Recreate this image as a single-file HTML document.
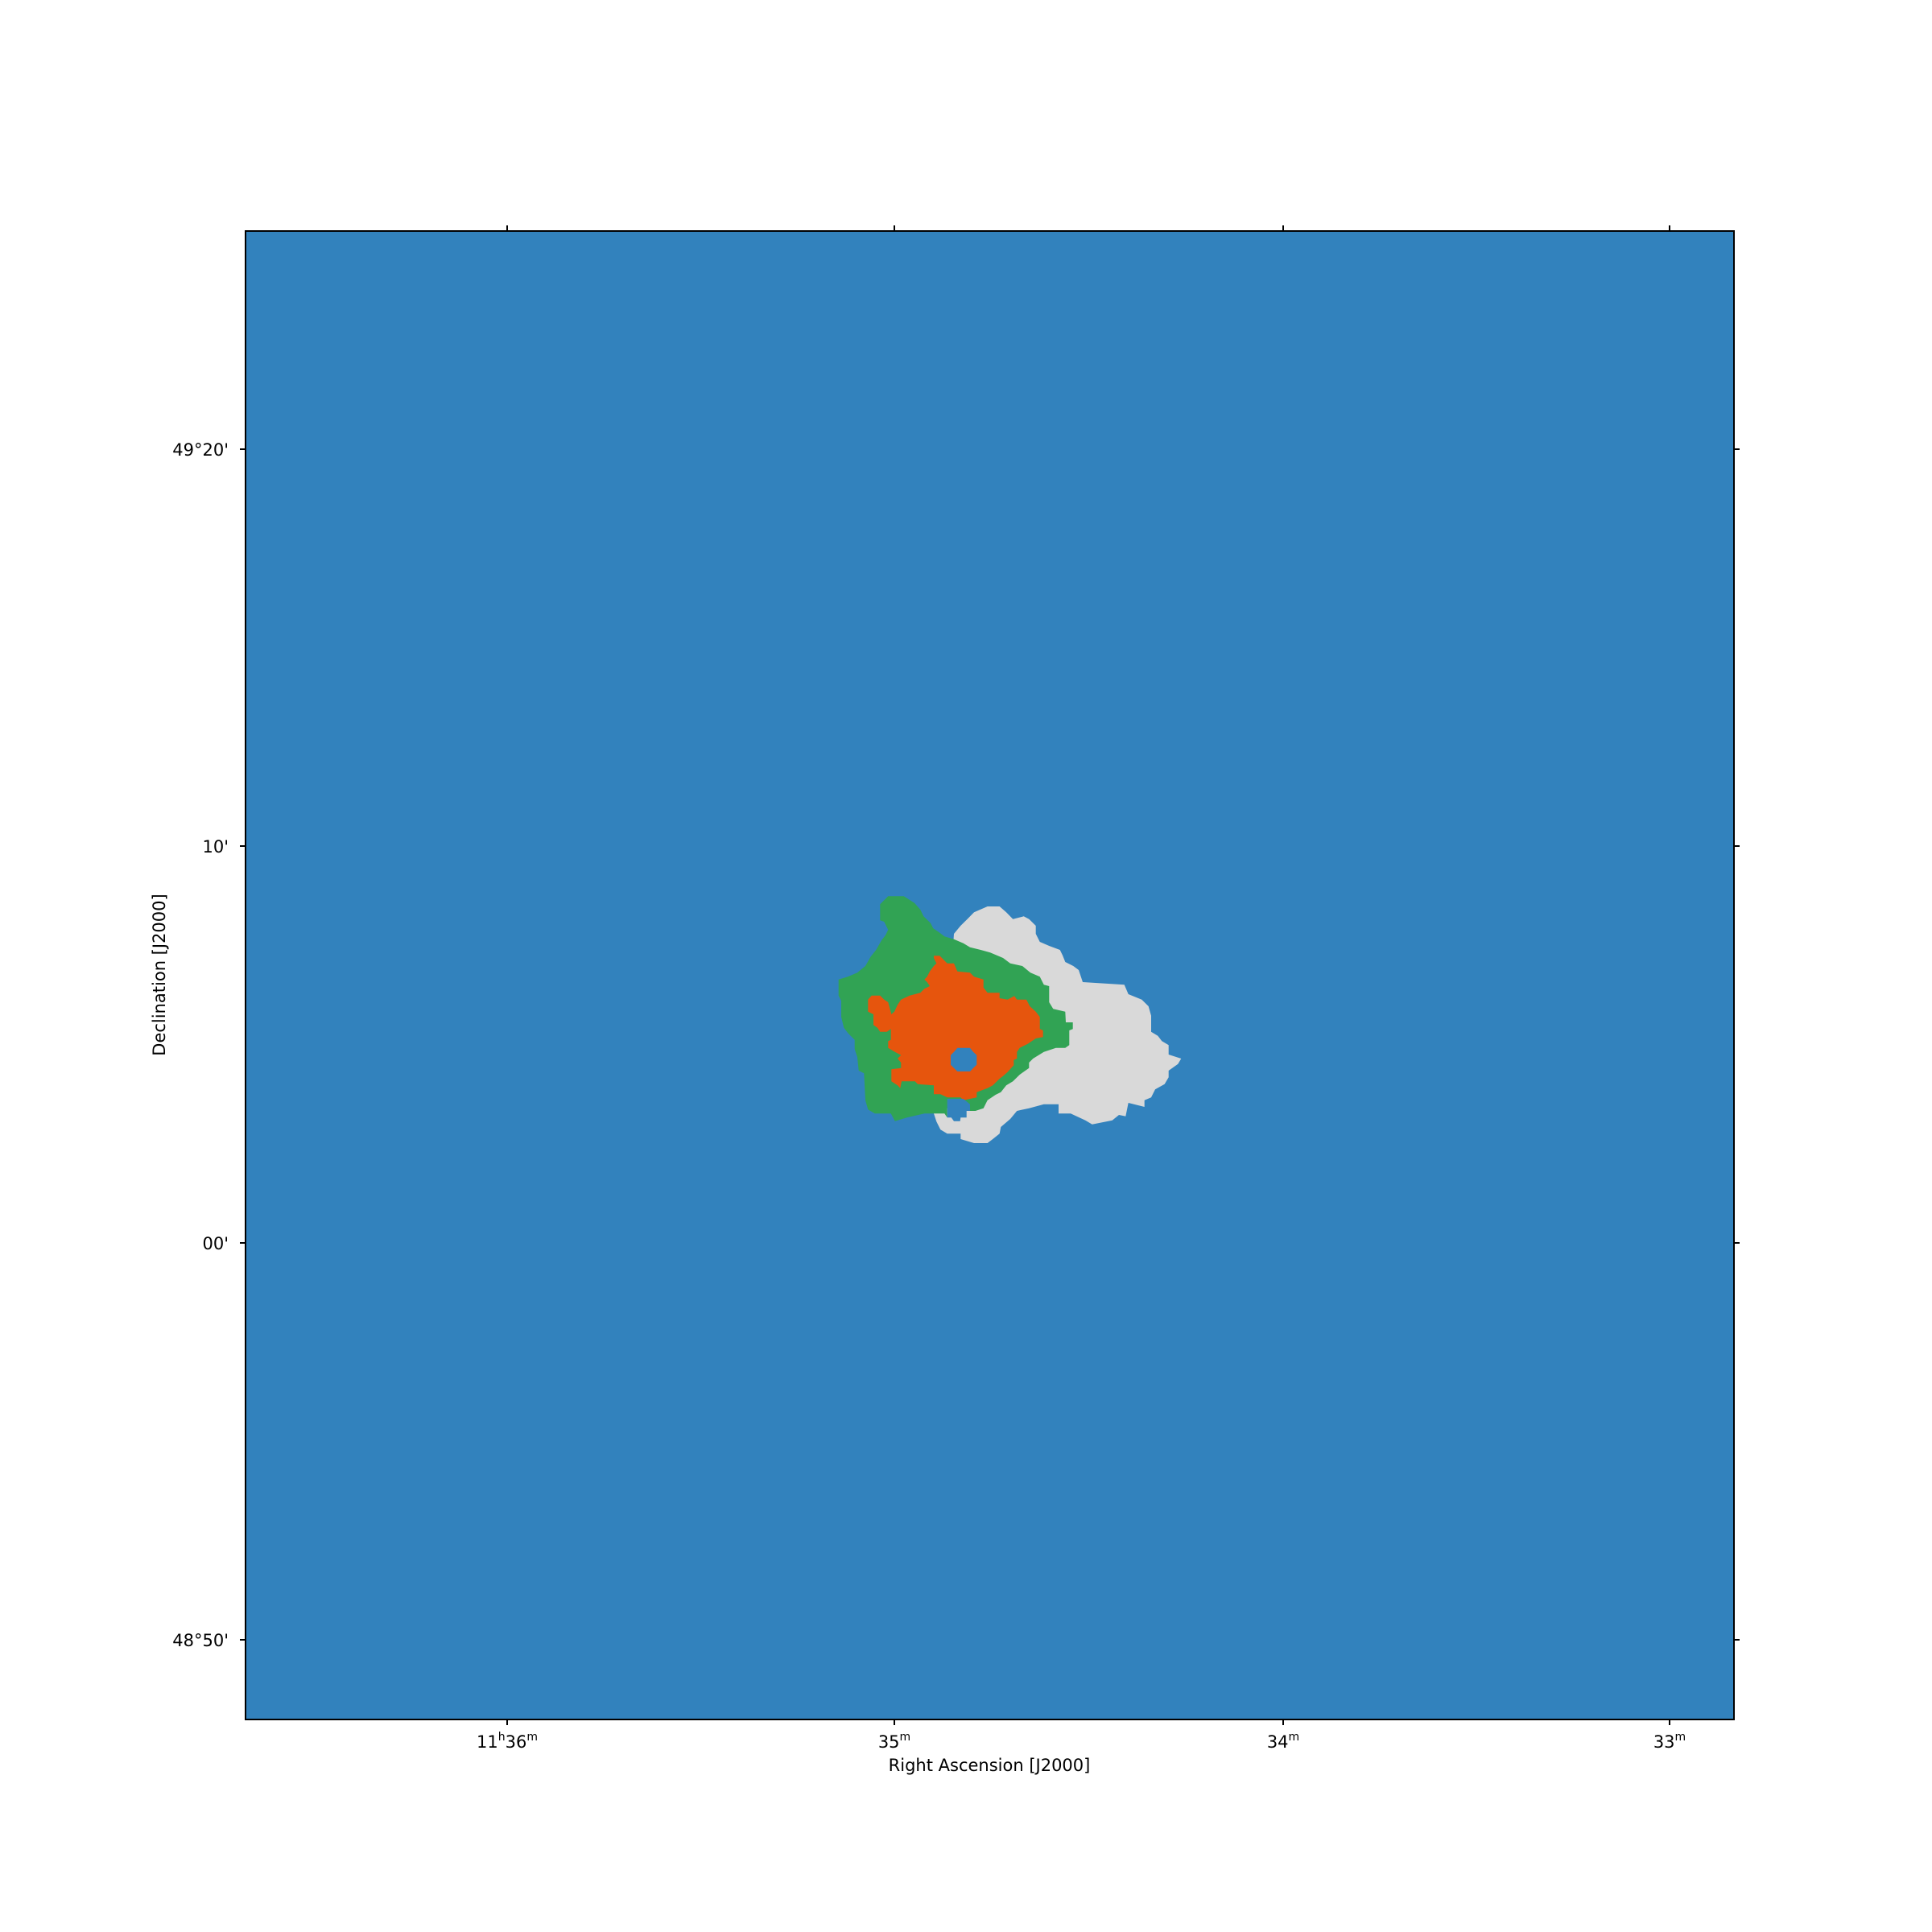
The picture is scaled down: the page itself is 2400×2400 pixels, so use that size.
<!DOCTYPE html>
<html><head><meta charset="utf-8"><style>
html,body{margin:0;padding:0;background:#fff;}
svg{display:block;font-family:"DejaVu Sans","Liberation Sans",sans-serif;}
</style></head><body>
<svg id="chart" width="2400" height="2400" viewBox="0 0 2400 2400" xmlns="http://www.w3.org/2000/svg">
<rect x="305" y="287" width="1849" height="1849" fill="#3282bd"/>
<g id="regions"></g>
<rect x="305" y="287" width="1849" height="1849" fill="none" stroke="#000" stroke-width="2"/>
<g id="axes" font-size="21" fill="#000"></g>
<text x="1229" y="2200" font-size="21" text-anchor="middle">Right Ascension [J2000]</text>
<text x="0" y="0" font-size="21" text-anchor="middle" transform="translate(205,1211) rotate(-90)">Declination [J2000]</text>
</svg>
<script>
// Region outlines in source-image units (zoomed segment grid)
const greyRegion = [[465,180],[490,150],[515,125],[540,100],[590,78],[635,78],[660,100],[685,125],[725,115],[745,125],[770,150],[770,180],[785,210],[820,225],[860,240],[870,260],[880,285],[910,300],[930,315],[945,360],[1100,370],[1115,405],[1165,425],[1190,450],[1200,485],[1200,545],[1225,560],[1240,580],[1265,595],[1265,630],[1312,645],[1300,665],[1265,690],[1265,715],[1250,740],[1215,760],[1200,790],[1175,800],[1175,825],[1115,810],[1105,860],[1080,855],[1055,875],[980,890],[955,875],[900,850],[855,850],[855,815],[800,815],[745,830],[700,840],[675,870],[640,900],[635,925],[610,945],[590,960],[540,960],[490,945],[490,925],[440,925],[415,910],[400,880],[390,850],[440,790],[450,400]];
const greenRegion = [[220,40],[278,40],[318,65],[340,90],[352,115],[378,140],[388,160],[410,175],[430,190],[465,200],[500,215],[525,230],[565,240],[600,250],[648,270],[675,290],[720,300],[750,325],[785,340],[800,370],[820,375],[820,435],[835,460],[880,470],[882,510],[908,510],[908,535],[895,540],[895,595],[880,605],[845,605],[800,620],[760,645],[745,660],[745,680],[710,705],[685,730],[660,745],[640,770],[620,780],[590,800],[575,830],[545,840],[525,840],[520,830],[440,830],[440,865],[430,850],[355,850],[290,865],[245,878],[230,850],[170,850],[145,835],[135,800],[130,700],[110,690],[105,640],[95,610],[95,575],[80,560],[70,550],[55,530],[45,490],[45,430],[35,410],[35,350],[70,340],[105,325],[135,300],[155,265],[175,240],[195,205],[210,185],[220,165],[205,135],[190,130],[190,70],[205,55]];
const orangeRegion = [[390,262],[412,262],[440,290],[465,290],[478,320],[525,325],[540,340],[575,350],[575,380],[590,400],[635,400],[635,420],[665,425],[690,412],[700,425],[735,425],[748,450],[770,470],[785,490],[785,535],[797,540],[797,565],[770,570],[740,590],[710,605],[700,620],[700,645],[688,650],[688,670],[665,695],[648,710],[635,720],[610,745],[590,755],[550,770],[550,790],[500,800],[490,790],[440,790],[415,778],[390,778],[390,745],[330,740],[320,730],[270,730],[265,755],[255,745],[232,730],[232,685],[268,680],[268,660],[255,645],[268,632],[245,620],[220,605],[220,580],[230,575],[230,535],[215,545],[190,545],[180,530],[165,520],[165,480],[145,470],[145,425],[158,410],[190,410],[205,425],[220,435],[232,480],[243,470],[255,445],[268,425],[300,410],[340,400],[355,385],[375,375],[365,360],[355,350],[365,340],[375,320],[390,300],[400,290],[390,270]];
const holeA = [[478,605],[525,605],[537,620],[550,632],[550,668],[537,680],[525,693],[478,693],[465,680],[453,668],[453,632],[465,620]];
const holeB = [[440,795],[500,795],[525,815],[525,840],[512,840],[512,865],[490,865],[488,878],[465,878],[455,865],[440,865]];
const xTickPos = [630,1111,1594,2074];
const xTickHours = ["11","","",""];
const xTickMins = ["36","35","34","33"];
const yTickPos = [558,1051,1544,2037];
const yTickLabels = ["49°20'","10'","00'","48°50'"];

function sx(v){return 1030 + v/3;}
function sy(v){return 1100 + v/3;}
const NS='http://www.w3.org/2000/svg';
const reg=document.getElementById('regions');
function poly(pts,fill,name){
  const p=document.createElementNS(NS,'polygon');
  p.setAttribute('points',pts.map(q=>sx(q[0]).toFixed(1)+','+sy(q[1]).toFixed(1)).join(' '));
  p.setAttribute('fill',fill);
  
  
  reg.appendChild(p);
}
poly(greyRegion,'#d9d9d9','grey-region');
poly(greenRegion,'#31a354','green-region');
poly(orangeRegion,'#e6550d','orange-region');
poly(holeA,'#3282bd','blue-hole-center');
poly(holeB,'#3282bd','blue-hole-south');

const ax=document.getElementById('axes');
function line(x1,y1,x2,y2,name){
  const l=document.createElementNS(NS,'line');
  l.setAttribute('x1',x1);l.setAttribute('y1',y1);l.setAttribute('x2',x2);l.setAttribute('y2',y2);
  l.setAttribute('stroke','#000');l.setAttribute('stroke-width','2');
  
  
  ax.appendChild(l);
}
xTickPos.forEach((x,i)=>{
  line(x,2136,x,2143,'x-tick');
  line(x,287,x,280,'x-tick-top');
  const t=document.createElementNS(NS,'text');
  t.setAttribute('x',x);t.setAttribute('y',2171);t.setAttribute('text-anchor','middle');
  
  
  let html='';
  if(xTickHours[i]) html+=xTickHours[i]+'<tspan font-size="14" dy="-9">h</tspan><tspan dy="9">'+xTickMins[i]+'</tspan><tspan font-size="14" dy="-9">m</tspan>';
  else html+=xTickMins[i]+'<tspan font-size="14" dy="-9">m</tspan>';
  t.innerHTML=html;
  ax.appendChild(t);
});
yTickPos.forEach((y,i)=>{
  line(298,y,305,y,'y-tick');
  line(2154,y,2161,y,'y-tick-right');
  const t=document.createElementNS(NS,'text');
  t.setAttribute('x',284);t.setAttribute('y',y+8);t.setAttribute('text-anchor','end');
  
  
  t.textContent=yTickLabels[i];
  ax.appendChild(t);
});
</script>
</body></html>
